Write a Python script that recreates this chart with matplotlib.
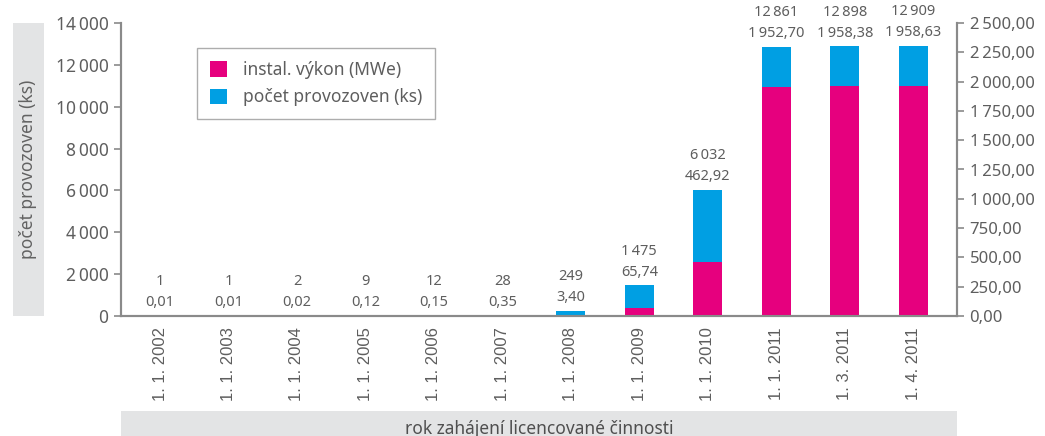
"""
Licencované provozovny: počet a instalovaný výkon
"""

import matplotlib
matplotlib.use('Agg')
import matplotlib.pyplot as plt
from matplotlib.patches import Patch, Rectangle

plt.rcParams['font.family'] = ['Noto Sans', 'DejaVu Sans']

# data
dates = ['1. 1. 2002', '1. 1. 2003', '1. 1. 2004', '1. 1. 2005', '1. 1. 2006', '1. 1. 2007',
         '1. 1. 2008', '1. 1. 2009', '1. 1. 2010', '1. 1. 2011', '1. 3. 2011', '1. 4. 2011']
pocet = [1, 1, 2, 9, 12, 28, 249, 1475, 6032, 12861, 12898, 12909]
vykon = [0.01, 0.01, 0.02, 0.12, 0.15, 0.35, 3.40, 65.74, 462.92, 1952.70, 1958.38, 1958.63]
left_ticks = [0, 2000, 4000, 6000, 8000, 10000, 12000, 14000]
right_ticks = [0, 250, 500, 750, 1000, 1250, 1500, 1750, 2000, 2250, 2500]

BLUE = '#009fe3'
PINK = '#e6007e'
GREY_TXT = '#5e5e5e'
SPINE = '#8a8a8a'
BAND = '#e3e4e5'
TS = '\u2009'  # thin space


def fmt_int(v):
    return f'{int(v):,}'.replace(',', TS)


def fmt_dec(v):
    return f'{v:,.2f}'.replace(',', 'X').replace('.', ',').replace('X', TS)


fig = plt.figure(figsize=(10.45, 4.36), dpi=100)
ax = fig.add_axes([121 / 1045, 1 - 316 / 436, 836 / 1045, 293 / 436])
ax2 = ax.twinx()

x = list(range(len(dates)))
w = 0.42
ax.bar(x, pocet, width=w, color=BLUE, zorder=2)
ax2.bar(x, vykon, width=w, color=PINK, zorder=2)

ax.set_ylim(0, 14000)
ax2.set_ylim(0, 2500)
ax.set_xlim(-0.57, 11.64)

ax.set_yticks(left_ticks)
ax.set_yticklabels([fmt_int(t) for t in left_ticks], fontsize=12.5, color=GREY_TXT)
ax2.set_yticks(right_ticks)
ax2.set_yticklabels([fmt_dec(t) for t in right_ticks], fontsize=12, color=GREY_TXT)

ax.set_xticks(x)
ax.set_xticklabels(dates, rotation=90, fontsize=12, color=GREY_TXT,
                   family=['Liberation Sans', 'DejaVu Sans'])
ax.tick_params(axis='x', length=0, pad=8)
ax.tick_params(axis='y', length=5, width=1.2, color=SPINE, pad=4)
ax2.tick_params(axis='y', length=5, width=1.2, color=SPINE, pad=4)

for a in (ax, ax2):
    a.spines['top'].set_visible(False)
    for s in ('left', 'right', 'bottom'):
        a.spines[s].set_color(SPINE)
        a.spines[s].set_linewidth(1.5)

# popisky nad sloupci
for i in x:
    ax.annotate(fmt_dec(vykon[i]), (i, pocet[i]), xytext=(0, 13), textcoords='offset pixels',
                ha='center', va='center', fontsize=10.5, color=GREY_TXT)
    ax.annotate(fmt_int(pocet[i]), (i, pocet[i]), xytext=(0, 34), textcoords='offset pixels',
                ha='center', va='center', fontsize=10.5, color=GREY_TXT)

# legenda
handles = [Patch(facecolor=PINK, label='instal. výkon (MWe)'),
           Patch(facecolor=BLUE, label='počet provozoven (ks)')]
leg = ax2.legend(handles=handles, loc='upper left', bbox_to_anchor=(0.091, 0.915),
                 borderaxespad=0, fancybox=False, frameon=True, fontsize=12.5,
                 handlelength=1.0, handleheight=1.0, handletextpad=0.9,
                 labelspacing=0.55, borderpad=0.75)
leg.get_frame().set_edgecolor('#999999')
leg.get_frame().set_linewidth(1.0)
for t in leg.get_texts():
    t.set_color(GREY_TXT)

# šedé pruhy s popisky os
fig.patches.append(Rectangle((13 / 1045, 1 - 316 / 436), 31 / 1045, 293 / 436,
                             transform=fig.transFigure, facecolor=BAND, edgecolor='none', zorder=0))
fig.text(28 / 1045, 1 - 169 / 436, 'počet provozoven (ks)', rotation=90, ha='center', va='center',
         fontsize=12.5, color='#626262')

fig.patches.append(Rectangle((121 / 1045, 0), 836 / 1045, 25 / 436,
                             transform=fig.transFigure, facecolor=BAND, edgecolor='none', zorder=0))
fig.text(539 / 1045, 1 - 434 / 436, 'rok zahájení licencované činnosti', ha='center', va='baseline',
         fontsize=12.5, color='#4f4f4f')

plt.savefig('out.png', dpi=100)
plt.close()
